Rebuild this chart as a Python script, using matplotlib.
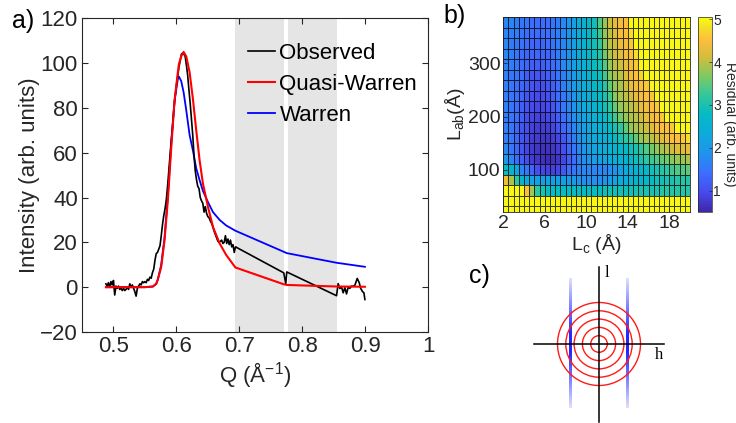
import numpy as np
import matplotlib
matplotlib.use('Agg')
import matplotlib.pyplot as plt
from matplotlib.colors import LinearSegmentedColormap
from matplotlib.patches import Circle

plt.rcParams['font.family'] = ['Liberation Sans', 'DejaVu Sans']
plt.rcParams['mathtext.default'] = 'regular'

DARK = '#262626'

# ---- panel a: observed profile and the two fits ----
q_obs = [0.488, 0.490, 0.492, 0.494, 0.496, 0.498, 0.500, 0.502, 0.504, 0.506,
         0.508, 0.510, 0.512, 0.514, 0.516, 0.518, 0.520, 0.522, 0.524, 0.526,
         0.528, 0.530, 0.532, 0.534, 0.536, 0.538, 0.540, 0.542, 0.544, 0.546,
         0.548, 0.550, 0.552, 0.554, 0.556, 0.558, 0.560, 0.562, 0.564, 0.566,
         0.568, 0.570, 0.572, 0.574, 0.576, 0.578, 0.580, 0.582, 0.584, 0.586,
         0.588, 0.590, 0.592, 0.594, 0.596, 0.598, 0.600, 0.602, 0.604, 0.606,
         0.608, 0.610, 0.612, 0.614, 0.616, 0.618, 0.620, 0.622, 0.624, 0.626,
         0.628, 0.630, 0.632, 0.634, 0.636, 0.638, 0.640, 0.642, 0.644, 0.646,
         0.648, 0.650, 0.652, 0.654, 0.656, 0.658, 0.660, 0.662, 0.664, 0.666,
         0.668, 0.670, 0.672, 0.674, 0.676, 0.678, 0.680, 0.682, 0.684, 0.686,
         0.688, 0.690, 0.692, 0.694,
         0.7707, 0.7739, 0.7755,
         0.8546, 0.8572, 0.8599, 0.8625, 0.8652, 0.8678, 0.8705, 0.8731, 0.8758,
         0.8785, 0.8811, 0.8838, 0.8875, 0.8907, 0.8929, 0.8960, 0.8981, 0.8997]
i_obs = [1.5, 0.5, 2.0, 0.0, 2.5, 1.0, 3.0, -3.5, 0.5, -0.5,
         0.5, -1.0, -0.5, -1.5, -0.5, -1.5, -1.0, 0.0, -1.0, 1.5,
         0.0, 1.0, -0.5, -2.0, -4.0, -0.5, 0.5, 1.5, 1.0, 2.5,
         2.0, 2.5, 2.0, 3.5, 3.0, 4.5, 4.0, 6.5, 8.0, 12.0,
         15.0, 15.5, 17.0, 18.5, 23.0, 28.0, 32.0, 35.0, 39.0, 45.0,
         52.0, 59.0, 66.0, 72.0, 79.0, 85.0, 90.0, 94.0, 98.0, 101.0,
         104.0, 104.5, 104.0, 103.0, 99.0, 94.5, 88.0, 82.0, 75.0, 68.0,
         59.0, 52.0, 48.0, 45.0, 44.0, 40.0, 38.5, 37.5, 33.5, 36.0,
         33.0, 31.5, 31.0, 29.5, 28.5, 27.0, 25.0, 23.5, 22.0, 20.5,
         20.0, 20.5, 21.0, 19.5, 20.0, 23.0, 19.5, 21.5, 19.0, 21.0,
         18.0, 19.0, 15.5, 18.0,
         6.4, 1.5, 6.8,
         -3.8, 1.6, -0.6, 0.1, -2.5, -0.2, -3.0, 0.0, -0.5,
         0.5, 0.4, 0.9, 3.9, 2.0, -0.5, -2.0, -2.5, -5.5]

q_model = [0.488, 0.52, 0.55, 0.5626, 0.568, 0.5706, 0.5759, 0.5812, 0.5865, 0.5918,
           0.597, 0.6024, 0.604, 0.6077, 0.6115, 0.6157, 0.621, 0.6263, 0.6316, 0.6369,
           0.6422, 0.6502, 0.6582, 0.6688, 0.6794, 0.6938, 0.7707, 0.7755, 0.8546, 0.8997]
i_quasi = [0, 0, 0, 0.3, 1.5, 3.5, 9, 21, 39, 62,
           83, 96, 99.5, 103, 105, 103, 96, 84, 70, 56.7,
           46.3, 35.9, 26.9, 19.5, 14.3, 8.8, 1.3, 1.0, 0.3, 0.2]
i_warren = [0, 0, 0, 0.3, 1.5, 3.5, 10, 22, 41, 64,
            83, 93, 94, 92, 87, 79, 68, 61, 53, 47.8,
            43, 38, 33.5, 30, 27.5, 25.2, 15.8, 15.2, 10.9, 9.1]

excluded = [(0.6927, 0.7707), (0.7776, 0.8546)]

# ---- panel b: residual map, rows listed from top (large L_ab) to bottom ----
lc_edges = np.arange(2.0, 20.01, 0.5)
lab_edges = np.append(np.linspace(386, 32, 19), 21)
residual = [
    [1.7, 1.7, 1.6, 1.5, 1.5, 1.4, 1.4, 1.4, 1.4, 1.5, 1.6, 1.7,
     1.9, 2.1, 2.3, 2.5, 2.7, 2.9, 3.4, 3.8, 4.1, 4.3, 4.4, 4.5,
     5, 5, 5, 5, 5, 5, 5, 5, 5, 5, 5, 5],
    [1.7, 1.6, 1.6, 1.5, 1.4, 1.4, 1.4, 1.4, 1.4, 1.5, 1.6, 1.7,
     1.9, 2.1, 2.3, 2.5, 2.7, 2.9, 3.3, 3.8, 4.0, 4.2, 4.4, 4.5,
     4.8, 5, 5, 5, 5, 5, 5, 5, 5, 5, 5, 5],
    [1.7, 1.6, 1.5, 1.5, 1.4, 1.3, 1.3, 1.3, 1.4, 1.5, 1.6, 1.7,
     1.9, 2.1, 2.3, 2.5, 2.7, 2.9, 3.2, 3.7, 4.0, 4.1, 4.3, 4.4,
     4.6, 5, 5, 5, 5, 5, 5, 5, 5, 5, 5, 5],
    [1.7, 1.6, 1.5, 1.4, 1.3, 1.3, 1.3, 1.3, 1.3, 1.4, 1.6, 1.7,
     1.9, 2.1, 2.3, 2.5, 2.7, 2.9, 3.1, 3.6, 3.9, 4.1, 4.2, 4.4,
     4.5, 4.8, 5, 5, 5, 5, 5, 5, 5, 5, 5, 5],
    [1.6, 1.6, 1.5, 1.4, 1.3, 1.2, 1.2, 1.2, 1.3, 1.4, 1.5, 1.7,
     1.9, 2.1, 2.3, 2.5, 2.6, 2.8, 3.0, 3.4, 3.8, 4.0, 4.1, 4.3,
     4.4, 4.6, 5, 5, 5, 5, 5, 5, 5, 5, 5, 5],
    [1.6, 1.5, 1.5, 1.4, 1.2, 1.1, 1.1, 1.1, 1.2, 1.3, 1.5, 1.6,
     1.8, 2.0, 2.2, 2.4, 2.6, 2.7, 2.9, 3.3, 3.7, 3.9, 4.0, 4.2,
     4.4, 4.5, 4.7, 5, 5, 5, 5, 5, 5, 5, 5, 5],
    [1.6, 1.5, 1.4, 1.3, 1.2, 1.1, 1.0, 1.0, 1.1, 1.2, 1.4, 1.6,
     1.8, 2.0, 2.2, 2.4, 2.5, 2.7, 2.8, 3.1, 3.5, 3.8, 3.9, 4.1,
     4.3, 4.4, 4.5, 4.6, 5, 5, 5, 5, 5, 5, 5, 5],
    [1.6, 1.5, 1.4, 1.3, 1.1, 1.0, 0.95, 0.95, 1.0, 1.2, 1.4, 1.5,
     1.7, 1.9, 2.1, 2.3, 2.5, 2.6, 2.8, 3.0, 3.3, 3.7, 3.9, 4.0,
     4.1, 4.3, 4.4, 4.5, 4.6, 5, 5, 5, 5, 5, 5, 5],
    [1.6, 1.5, 1.4, 1.2, 1.1, 0.95, 0.9, 0.9, 0.95, 1.1, 1.3, 1.5,
     1.7, 1.9, 2.1, 2.3, 2.4, 2.6, 2.7, 2.9, 3.2, 3.5, 3.8, 3.9,
     4.0, 4.1, 4.3, 4.4, 4.5, 4.6, 5, 5, 5, 5, 5, 5],
    [1.6, 1.5, 1.4, 1.2, 1.0, 0.9, 0.85, 0.85, 0.9, 1.0, 1.2, 1.4,
     1.6, 1.8, 2.0, 2.2, 2.3, 2.5, 2.6, 2.8, 3.0, 3.3, 3.6, 3.8,
     3.9, 4.0, 4.1, 4.3, 4.4, 4.5, 4.6, 5, 5, 5, 5, 5],
    [1.6, 1.5, 1.3, 1.1, 1.0, 0.85, 0.8, 0.8, 0.8, 0.9, 1.1, 1.3,
     1.5, 1.7, 1.9, 2.1, 2.2, 2.4, 2.5, 2.6, 2.8, 3.0, 3.2, 3.5,
     3.8, 3.9, 4.0, 4.1, 4.2, 4.4, 4.5, 4.5, 4.6, 5, 5, 5],
    [1.6, 1.5, 1.3, 1.1, 0.95, 0.8, 0.75, 0.7, 0.7, 0.8, 0.9, 1.1,
     1.4, 1.6, 1.8, 2.0, 2.2, 2.3, 2.4, 2.5, 2.6, 2.8, 3.0, 3.2,
     3.3, 3.5, 3.8, 3.9, 4.0, 4.1, 4.2, 4.4, 4.5, 4.5, 4.6, 4.8],
    [1.7, 1.5, 1.3, 1.1, 0.9, 0.75, 0.7, 0.65, 0.65, 0.7, 0.8, 1.0,
     1.3, 1.5, 1.7, 1.9, 2.1, 2.2, 2.3, 2.4, 2.5, 2.6, 2.7, 2.8,
     2.9, 3.0, 3.2, 3.4, 3.6, 3.8, 3.9, 4.0, 4.1, 4.2, 4.2, 4.3],
    [2.0, 1.7, 1.4, 1.2, 1.0, 0.8, 0.7, 0.65, 0.6, 0.65, 0.7, 0.9,
     1.2, 1.4, 1.6, 1.8, 1.9, 2.0, 2.1, 2.2, 2.3, 2.4, 2.5, 2.6,
     2.7, 2.9, 3.0, 3.2, 3.3, 3.4, 3.5, 3.6, 3.7, 3.8, 3.8, 3.9],
    [2.8, 2.6, 2.2, 1.7, 1.5, 1.3, 1.0, 0.9, 0.85, 0.85, 0.9, 1.1,
     1.4, 1.5, 1.6, 1.7, 1.7, 1.7, 1.7, 1.7, 1.8, 1.9, 2.1, 2.3,
     2.4, 2.5, 2.6, 2.7, 2.9, 3.0, 3.1, 3.2, 3.3, 3.4, 3.4, 3.5],
    [4.4, 3.9, 3.2, 2.6, 2.3, 2.2, 2.1, 2.1, 2.1, 2.1, 2.1, 2.1,
     2.0, 2.0, 1.9, 1.8, 1.8, 1.8, 1.8, 1.9, 2.0, 2.2, 2.3, 2.4,
     2.5, 2.6, 2.6, 2.7, 2.8, 2.9, 2.9, 3.0, 3.0, 3.1, 3.1, 3.1],
    [5, 5, 5, 5, 4.5, 3.9, 3.2, 3.0, 2.8, 2.8, 2.8, 2.8,
     2.8, 2.8, 2.8, 2.8, 2.8, 2.8, 2.8, 2.9, 2.9, 2.9, 2.9, 2.9,
     2.9, 3.0, 3.0, 3.0, 3.0, 3.0, 3.1, 3.1, 3.1, 3.1, 3.1, 3.1],
    [5] * 36,
    [5] * 36,
]

# ---- panel c: reciprocal space sketch ----
ring_radii = [1, 2, 3, 4, 5]
rod_positions = [-3.43, 3.43]

parula = LinearSegmentedColormap.from_list('parula', [
    (0.00, (0.2422, 0.1504, 0.6603)),
    (0.10, (0.2780, 0.2920, 0.9300)),
    (0.20, (0.2350, 0.4350, 0.9970)),
    (0.30, (0.1200, 0.5800, 0.9300)),
    (0.40, (0.0500, 0.6700, 0.8600)),
    (0.50, (0.0200, 0.7300, 0.7700)),
    (0.60, (0.2000, 0.7800, 0.6100)),
    (0.70, (0.5000, 0.7900, 0.3800)),
    (0.80, (0.8400, 0.7400, 0.2300)),
    (0.88, (0.9900, 0.7400, 0.2400)),
    (0.95, (0.9600, 0.8800, 0.1500)),
    (1.00, (0.9769, 0.9839, 0.0805)),
])


def plot_profile(fig):
    ax = fig.add_axes([82 / 736, 1 - 332 / 423, 346 / 736, 313.7 / 423])
    for lo, hi in excluded:
        ax.axvspan(lo, hi, color='#e5e5e5', lw=0, zorder=0)
    l_obs, = ax.plot(q_obs, i_obs, color='k', lw=1.2, zorder=3)
    l_war, = ax.plot(q_model, i_warren, color='#0000ff', lw=1.3, zorder=2)
    l_qw, = ax.plot(q_model, i_quasi, color='#ff0000', lw=1.5, zorder=4)
    ax.set_xlim(0.45, 1.0)
    ax.set_ylim(-20, 120)
    ax.set_xticks([0.5, 0.6, 0.7, 0.8, 0.9, 1.0])
    ax.set_xticklabels(['0.5', '0.6', '0.7', '0.8', '0.9', '1'])
    ax.set_yticks(range(-20, 121, 20))
    ax.tick_params(direction='in', length=4, width=0.8, colors=DARK,
                   labelsize=16, top=True, right=True, pad=3)
    for s in ax.spines.values():
        s.set_color(DARK)
        s.set_linewidth(0.8)
    ax.set_xlabel(u'Q (\u00c5$^{-1}$)', fontsize=16, color=DARK, labelpad=2)
    ax.set_ylabel('Intensity (arb. units)', fontsize=16, color=DARK, labelpad=0)
    ax.legend([l_obs, l_qw, l_war], ['Observed', 'Quasi-Warren', 'Warren'],
              loc='upper left', bbox_to_anchor=(0.455, 0.95), frameon=False,
              fontsize=16, handlelength=1.2, handletextpad=0.2, labelspacing=0.45,
              borderaxespad=0)


def plot_residual_map(fig):
    ax = fig.add_axes([503.3 / 736, 1 - 212 / 423, 186.7 / 736, 194.7 / 423])
    mesh = ax.pcolormesh(lc_edges, lab_edges, np.array(residual), cmap=parula,
                         vmin=0.5, vmax=5.05, edgecolors=(0, 0, 0, 0.75),
                         linewidth=0.5)
    ax.set_xlim(2, 20)
    ax.set_ylim(21, 386)
    ax.set_xticks([2, 6, 10, 14, 18])
    ax.set_yticks([100, 200, 300])
    ax.tick_params(direction='in', length=3, width=0.6, colors=DARK,
                   labelsize=14, pad=2)
    for s in ax.spines.values():
        s.set_color(DARK)
        s.set_linewidth(0.6)
    ax.set_xlabel(u'L$_c$ (\u00c5)', fontsize=14, color=DARK, labelpad=0)
    ax.set_ylabel(u'L$_{ab}$(\u00c5)', fontsize=14, color=DARK, labelpad=1)

    cax = fig.add_axes([698 / 736, 1 - 212 / 423, 14 / 736, 195 / 423])
    cb = fig.colorbar(mesh, cax=cax)
    cb.set_ticks([1, 2, 3, 4, 5])
    cb.ax.tick_params(direction='in', length=2, width=0.5, colors=DARK,
                      labelsize=10, pad=1)
    cb.outline.set_edgecolor(DARK)
    cb.outline.set_linewidth(0.5)
    fig.text(730 / 736, 1 - 124 / 423, 'Residual (arb. units)', fontsize=10,
             color=DARK, rotation=270, ha='center', va='center')


def plot_sketch(fig):
    ax = fig.add_axes([520 / 736, 0, 160 / 736, 163 / 423])
    # blue rods fading towards both ends
    t = np.linspace(-1, 1, 120)
    fade = np.clip(1.15 - np.abs(t), 0.05, 1.0)
    rod = np.zeros((len(t), 1, 4))
    rod[:, 0, 0] = 0.15
    rod[:, 0, 1] = 0.15
    rod[:, 0, 2] = 1.0
    rod[:, 0, 3] = fade
    for x0 in rod_positions:
        ax.imshow(rod, extent=[x0 - 0.14, x0 + 0.14, -7.7, 7.95], aspect='auto',
                  interpolation='bilinear', zorder=1)
    for r in ring_radii:
        ax.add_patch(Circle((0, 0), r, fill=False, ec='#ff1a1a', lw=1.0, zorder=2))
    ax.plot([-7.83, 7.83], [0, 0], color='k', lw=1.1, zorder=3)
    ax.plot([0, 0], [-9.4, 9.28], color='k', lw=1.1, zorder=3)
    ax.text(1.0, 8.6, 'l', family=['Liberation Serif', 'DejaVu Serif'],
            fontsize=12, ha='center', va='center')
    ax.text(7.25, -1.35, 'h', family=['Liberation Serif', 'DejaVu Serif'],
            fontsize=12, ha='center', va='center')
    ax.set_xlim(-9.52, 9.76)
    ax.set_ylim(-9.52, 10.12)
    ax.axis('off')


if __name__ == "__main__":
    fig = plt.figure(figsize=(7.36, 4.23), dpi=100)
    plot_profile(fig)
    plot_residual_map(fig)
    plot_sketch(fig)
    fig.text(12 / 736, 1 - 21 / 423, 'a)', fontsize=18, va='center', ha='left')
    fig.text(443 / 736, 1 - 16 / 423, 'b)', fontsize=18, va='center', ha='left')
    fig.text(469 / 736, 1 - 276 / 423, 'c)', fontsize=18, va='center', ha='left')
    fig.savefig('out.png', dpi=100)
